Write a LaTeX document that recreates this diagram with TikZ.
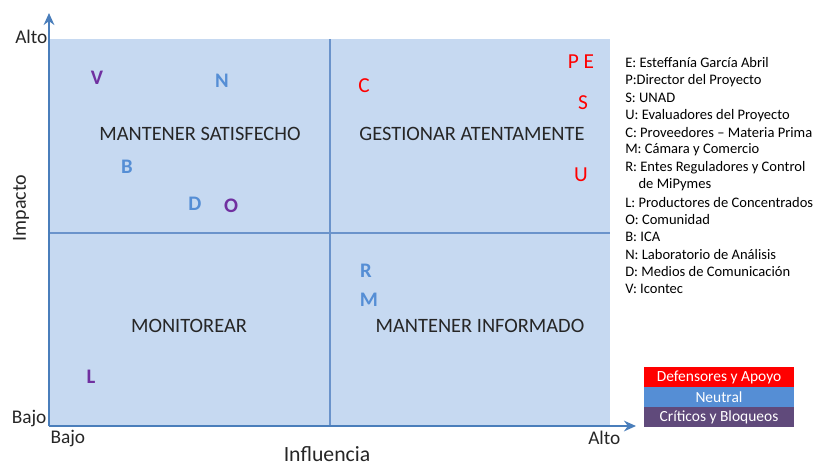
\documentclass[tikz,border=0pt]{standalone}
\usepackage{fontspec}
\setmainfont{Carlito}
\usetikzlibrary{positioning,arrows.meta}
\definecolor{cuadro}{HTML}{C6D9F1}
\definecolor{eje}{HTML}{4A7EBB}
\definecolor{divisor}{HTML}{6A93CB}
\definecolor{neutro}{HTML}{558ED5}
\definecolor{critico}{HTML}{7030A0}
\definecolor{criticobox}{HTML}{604A7B}
\definecolor{texto}{HTML}{262626}
\tikzset{
  ejeflecha/.style={draw=eje, line width=2pt, -{Stealth[length=9pt,width=8pt]}},
  cuadrante/.style={font=\fontsize{15.3}{18}\selectfont, text=texto},
  ejetexto/.style={font=\fontsize{14.5}{16}\selectfont, text=texto, inner sep=1pt},
  apoyo/.style={font=\fontsize{16}{18}\selectfont, text=red},
  neutral/.style={font=\bfseries\fontsize{15.5}{18}\selectfont, text=neutro},
  bloqueo/.style={font=\bfseries\fontsize{15.5}{18}\selectfont, text=critico},
  legtext/.style={font=\fontsize{10.9}{12}\selectfont, anchor=west, inner sep=0pt},
  legbox/.style={minimum width=112.5pt, minimum height=14.6pt, inner sep=0pt,
    text=white, font=\fontsize{11.6}{12}\selectfont}
}
\begin{document}
\begin{tikzpicture}[x=0.75pt, y=-0.75pt, node distance=0pt]
\useasboundingbox (0,0) rectangle (813,465);
% matriz
\fill[cuadro] (49,39) rectangle (610,426);
\coordinate (origen) at (49,426);
\coordinate (ytope) at (49,13);
\coordinate (xtope) at (636,426);
\coordinate (midtop) at (330,39);
\coordinate (midbot) at (330,426);
\coordinate (midleft) at (49,233);
\coordinate (midright) at (610,233);
\draw[divisor, line width=0.9pt] (midtop) -- (midbot);
\draw[divisor, line width=0.9pt] (midleft) -- (midright);
\draw[ejeflecha] (origen) -- (ytope);
\draw[ejeflecha] (origen) -- (xtope);
% ejes
\node[ejetexto, anchor=east] (altoy) at (49,37) {Alto};
\node[ejetexto, anchor=east] (bajoy) at (48,418) {Bajo};
\node[ejetexto, anchor=west] (bajox) at (49,438) {Bajo};
\node[ejetexto, anchor=east] (altox) at (622,438) {Alto};
\node[ejetexto, rotate=90, font=\fontsize{15}{17}\selectfont] (impacto) at (21,208) {Impacto};
\node[ejetexto, inner sep=0pt, font=\fontsize{16.3}{17}\selectfont] (influencia) at (327,454) {Influencia};
% cuadrantes
\node[cuadrante] (satisfecho) at (200,134) {MANTENER SATISFECHO};
\node[cuadrante] (gestionar) at (472,134) {GESTIONAR ATENTAMENTE};
\node[cuadrante] (monitorear) at (189,326) {MONITOREAR};
\node[cuadrante] (informado) at (480,326) {MANTENER INFORMADO};
% interesados
\node[bloqueo] (V) at (97,78) {V};
\node[neutral] (N) at (222,81) {N};
\node[neutral] (B) at (127,167) {B};
\node[neutral] (D) at (195,204) {D};
\node[bloqueo] (O) at (231,206) {O};
\node[bloqueo] (L) at (91,377) {L};
\node[apoyo] (C) at (364,86) {C};
\node[apoyo] (PE) at (581,62) {P E};
\node[apoyo] (S) at (583,103) {S};
\node[apoyo] (U) at (581,175) {U};
\node[neutral] (R) at (366,271) {R};
\node[neutral] (M) at (369,300) {M};
% convenciones
\foreach \txt [count=\i from 0] in {E: Esteffanía García Abril, P:Director del Proyecto,
  S: UNAD, U: Evaluadores del Proyecto, C: Proveedores – Materia Prima,
  M: Cámara y Comercio, R: Entes Reguladores y Control, \hspace*{10pt}de MiPymes,
  L: Productores de Concentrados, O: Comunidad, B: ICA, N: Laboratorio de Análisis,
  D: Medios de Comunicación, V: Icontec}
  \node[legtext] (item\i) at (625,{63+17.4*\i}) {\txt};
\node[legbox, fill=red] (defensores) at (719,377) {Defensores y Apoyo};
\node[legbox, fill=neutro, below=of defensores] (neutros) {Neutral};
\node[legbox, fill=criticobox, below=of neutros] (criticos) {Críticos y Bloqueos};
\end{tikzpicture}
\end{document}
